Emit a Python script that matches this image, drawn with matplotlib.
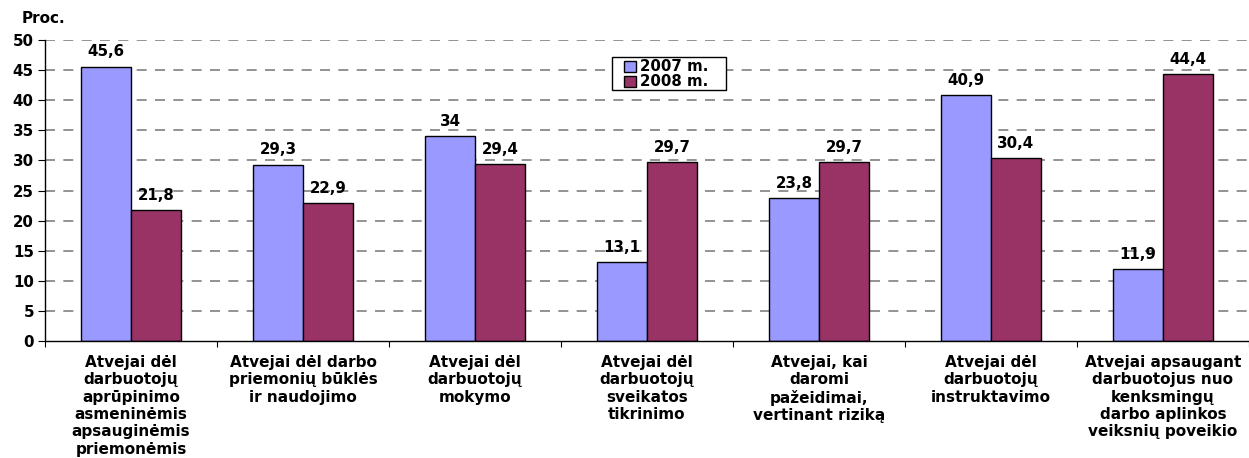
import matplotlib
matplotlib.use("Agg")
import matplotlib.pyplot as plt
from matplotlib.patches import Rectangle
import numpy as np

plt.rcParams['font.family'] = ['DejaVu Sans']
plt.rcParams['font.weight'] = 'bold'

categories = [
    "Atvejai dėl\ndarbuotojų\naprūpinimo\nasmeninėmis\napsauginėmis\npriemonėmis",
    "Atvejai dėl darbo\npriemonių būklės\nir naudojimo",
    "Atvejai dėl\ndarbuotojų\nmokymo",
    "Atvejai dėl\ndarbuotojų\nsveikatos\ntikrinimo",
    "Atvejai, kai\ndaromi\npažeidimai,\nvertinant riziką",
    "Atvejai dėl\ndarbuotojų\ninstruktavimo",
    "Atvejai apsaugant\ndarbuotojus nuo\nkenksmingų\ndarbo aplinkos\nveiksnių poveikio",
]
v2007 = [45.6, 29.3, 34, 13.1, 23.8, 40.9, 11.9]
v2008 = [21.8, 22.9, 29.4, 29.7, 29.7, 30.4, 44.4]
labels = ["2007 m.", "2008 m."]

FS = 10.8
FC = 11

fig = plt.figure(figsize=(12.49, 4.58), dpi=100)
ax = fig.add_axes([0.036, 0.2555, 0.964, 0.657])

x = np.arange(len(categories))
w = 0.29
b1 = ax.bar(x - w/2, v2007, w, color='#9999FF', edgecolor='black', linewidth=1, label=labels[0], zorder=3)
b2 = ax.bar(x + w/2, v2008, w, color='#993366', edgecolor='black', linewidth=1, label=labels[1], zorder=3)

def fmt(v):
    return ('%g' % v).replace('.', ',')

for bars, vals in ((b1, v2007), (b2, v2008)):
    for r, v in zip(bars, vals):
        ax.text(r.get_x() + r.get_width()/2, v + 1.2, fmt(v), ha='center', va='bottom',
                fontsize=FS, fontweight='bold')

ax.set_xlim(-0.5, len(categories) - 0.5)
ax.set_ylim(0, 50)
ax.set_yticks(range(0, 51, 5))
ax.yaxis.grid(True, linestyle=(0, (6, 5)), color='#808080', linewidth=1.2, zorder=0)
ax.set_axisbelow(True)
ax.yaxis.get_gridlines()[0].set_visible(False)

ax.set_xticks(np.arange(-0.5, len(categories) + 0.5, 1))
ax.set_xticklabels([])
ax.set_xticks(x, minor=True)
ax.set_xticklabels(categories, minor=True, fontsize=FC, fontweight='bold', linespacing=1.2)
ax.tick_params(axis='x', which='minor', length=0, pad=10)
ax.tick_params(axis='x', which='major', length=4, direction='out')
ax.tick_params(axis='y', length=5, direction='out', labelsize=FS, pad=3)
for lab in ax.get_yticklabels():
    lab.set_fontweight('bold')

for s in ['top', 'right']:
    ax.spines[s].set_visible(False)
ax.spines['left'].set_linewidth(1)
ax.spines['bottom'].set_linewidth(1)
ax.spines['bottom'].set_zorder(4)

fig.text(0.017, 0.944, "Proc.", fontsize=11, fontweight='bold', ha='left', va='bottom')

# legend frame drawn separately so the padding matches the reference
fig.patches.append(Rectangle((612/1249, 1 - 90/458), 114/1249, 33/458,
                             transform=fig.transFigure, facecolor='white',
                             edgecolor='black', linewidth=1, zorder=5))
leg = fig.legend(loc='upper left', bbox_to_anchor=(622/1249, 1 - 57/458), frameon=False,
                 fontsize=FS, handlelength=0.75, handleheight=0.75,
                 handletextpad=0.3, borderpad=0.15, labelspacing=0.0, borderaxespad=0)
leg.set_zorder(6)
for t in leg.get_texts():
    t.set_fontweight('bold')

fig.savefig('out.png', dpi=100)
